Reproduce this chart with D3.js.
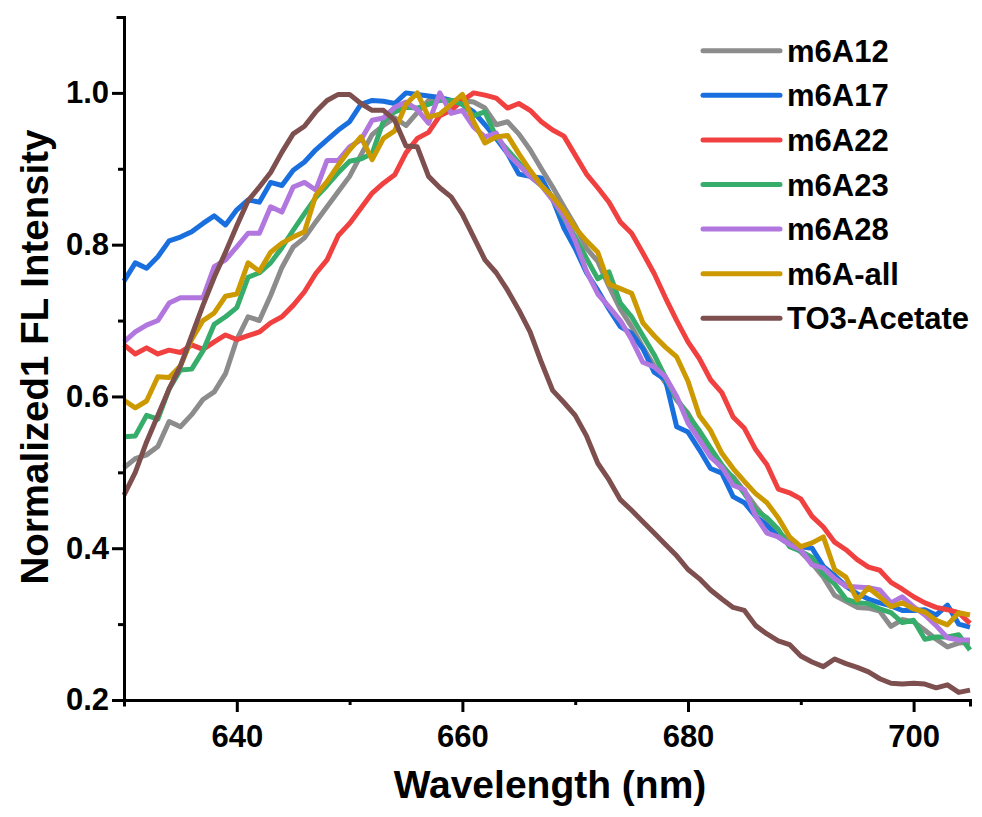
<!DOCTYPE html>
<html>
<head>
  <meta charset="utf-8">
  <script src="https://d3js.org/d3.v7.min.js"></script>
  <style>
    body { margin: 0; background: #ffffff; }
    text { font-family: "Liberation Sans", Arial, sans-serif; font-weight: bold; fill: #000; }
    .axis path, .axis line { stroke: #000; stroke-width: 3px; }
    .axis text { font-size: 31px; font-family: "Liberation Sans", Arial, sans-serif; font-weight: bold; }
    .line { fill: none; stroke-width: 5px; stroke-linejoin: round; }
  </style>
</head>
<body>
<div id="chart"></div>
<script>

// wavelength grid (nm)
var wavelength = [630,631,632,633,634,635,636,637,638,639,640,641,642,643,644,645,646,647,648,649,
  650,651,652,653,654,655,656,657,658,659,660,661,662,663,664,665,666,667,668,669,
  670,671,672,673,674,675,676,677,678,679,680,681,682,683,684,685,686,687,688,689,
  690,691,692,693,694,695,696,697,698,699,700,701,702,703,704,705];

var m6A12 = [.506,.518,.523,.534,.567,.560,.576,.596,.606,.630,.675,.705,.700,.733,.770,.797,.809,.830,.850,.870,
  .890,.918,.945,.957,.967,.957,.974,.990,.992,.990,.990,.988,.980,.958,.962,.946,.925,.900,.876,.850,
  .825,.795,.778,.745,.715,.692,.665,.640,.618,.595,.578,.552,.525,.505,.494,.475,.455,.437,.420,.410,
  .395,.380,.362,.338,.330,.322,.321,.317,.297,.306,.303,.292,.280,.270,.275,.276];

var m6A17 = [.752,.776,.769,.784,.805,.810,.817,.828,.838,.826,.846,.859,.856,.882,.878,.898,.909,.925,.938,.951,
  .962,.985,.990,.989,.986,1.0,.998,.996,.994,.990,.985,.975,.958,.940,.920,.893,.890,.888,.860,.822,
  .795,.763,.740,.715,.692,.683,.663,.632,.622,.560,.553,.530,.505,.499,.468,.460,.442,.430,.415,.405,
  .402,.400,.376,.364,.350,.340,.333,.328,.324,.318,.318,.319,.312,.325,.300,.296];

var m6A22 = [.668,.656,.664,.656,.661,.658,.668,.662,.672,.681,.675,.680,.685,.697,.705,.720,.738,.762,.780,.812,
  .828,.848,.868,.881,.892,.921,.940,.948,.970,.977,.990,1.0,.997,.993,.980,.986,.977,.962,.951,.943,
  .918,.893,.875,.856,.830,.815,.789,.762,.730,.700,.672,.650,.622,.605,.573,.558,.530,.510,.478,.473,
  .465,.442,.428,.408,.398,.385,.375,.371,.355,.346,.336,.328,.322,.319,.315,.301];

var m6A23 = [.547,.548,.575,.570,.610,.635,.636,.660,.695,.705,.717,.757,.763,.776,.796,.819,.841,.862,.878,.895,
  .910,.913,.920,.963,.975,.981,.980,.985,.990,.990,.985,.970,.975,.942,.925,.908,.890,.878,.860,.835,
  .810,.782,.755,.764,.723,.705,.680,.655,.625,.597,.575,.555,.532,.510,.492,.472,.450,.440,.425,.402,
  .396,.388,.366,.353,.333,.328,.327,.320,.315,.302,.305,.280,.283,.283,.286,.266];

var m6A28 = [.672,.685,.694,.700,.723,.730,.730,.730,.771,.780,.797,.815,.815,.850,.843,.876,.882,.872,.911,.911,
  .929,.938,.964,.967,.981,.988,.978,.960,1.0,.973,.977,.955,.942,.947,.920,.905,.890,.878,.859,.838,
  .805,.765,.735,.718,.700,.675,.645,.639,.626,.600,.565,.543,.520,.507,.483,.477,.442,.420,.415,.405,
  .398,.378,.374,.360,.350,.349,.348,.345,.328,.336,.323,.312,.298,.282,.279,.279];

var m6Aall = [.595,.585,.594,.626,.625,.640,.675,.700,.710,.732,.735,.776,.765,.790,.802,.810,.817,.865,.883,.905,
  .925,.942,.912,.940,.950,.985,1.0,.968,.972,.985,.998,.962,.934,.942,.944,.920,.898,.878,.863,.845,
  .822,.805,.790,.748,.742,.736,.697,.680,.665,.652,.620,.575,.555,.525,.505,.488,.472,.460,.440,.415,
  .402,.407,.415,.372,.362,.332,.348,.336,.323,.328,.320,.316,.305,.299,.315,.312];

var TO3 = [.470,.500,.540,.575,.610,.640,.680,.720,.757,.790,.825,.858,.876,.895,.922,.946,.956,.975,.990,.998,
  .998,.986,.977,.977,.964,.930,.929,.890,.875,.863,.840,.810,.780,.763,.740,.714,.685,.645,.608,.592,
  .575,.548,.512,.490,.464,.450,.435,.420,.405,.390,.372,.360,.345,.333,.322,.318,.298,.287,.278,.273,
  .258,.250,.244,.254,.248,.243,.237,.228,.222,.221,.222,.221,.216,.220,.210,.213];

var names = ["m6A12", "m6A17", "m6A22", "m6A23", "m6A28", "m6A-all", "TO3-Acetate"];
var colors = ["#8c8c8c", "#1a6fdf", "#f14040", "#37ad6b", "#b177de", "#cc9900", "#7e4f4f"];
var values = [m6A12, m6A17, m6A22, m6A23, m6A28, m6Aall, TO3];

var xMajor = [640, 660, 680, 700];
var xMinor = [630, 650, 670, 690];
var yMajor = [0.2, 0.4, 0.6, 0.8, 1.0];
var yMinor = [0.3, 0.5, 0.7, 0.9, 1.1];

var margin = {top: 17, right: 12, bottom: 117, left: 124},
    width = 982 - margin.left - margin.right,
    height = 817 - margin.top - margin.bottom;

var svg = d3.select("#chart").append("svg")
    .attr("width", width + margin.left + margin.right)
    .attr("height", height + margin.top + margin.bottom)
  .append("g")
    .attr("transform", "translate(" + margin.left + "," + margin.top + ")");

var x = d3.scaleLinear().domain([630, 705]).range([0, width]);
var y = d3.scaleLinear().domain([0.2, 1.1]).range([height, 0]);

var line = d3.line()
    .x(function(d) { return x(d[0]); })
    .y(function(d) { return y(d[1]); });

values.forEach(function(v, i) {
  svg.append("path")
      .datum(wavelength.map(function(w, j) { return [w, v[j]]; }))
      .attr("class", "line")
      .attr("stroke", colors[i])
      .attr("d", line);
});

// axes
svg.append("g")
    .attr("class", "axis")
    .attr("transform", "translate(0," + height + ")")
    .call(d3.axisBottom(x).tickValues(xMinor).tickSize(5).tickFormat(""));

svg.append("g")
    .attr("class", "axis")
    .attr("transform", "translate(0," + height + ")")
    .call(d3.axisBottom(x).tickValues(xMajor).tickSize(12).tickSizeOuter(0).tickPadding(13).tickFormat(d3.format("d")));

svg.append("g")
    .attr("class", "axis")
    .call(d3.axisLeft(y).tickValues(yMinor).tickSize(6).tickFormat(""));

svg.append("g")
    .attr("class", "axis")
    .call(d3.axisLeft(y).tickValues(yMajor).tickSize(12).tickSizeOuter(0).tickPadding(3).tickFormat(d3.format(".1f")));

svg.selectAll(".axis path").attr("stroke-linecap", "square");

// axis titles
svg.append("text")
    .attr("x", 550 - margin.left)
    .attr("y", height + 98)
    .style("text-anchor", "middle")
    .style("font-size", "39px")
    .text("Wavelength (nm)");

svg.append("text")
    .attr("transform", "rotate(-90)")
    .attr("x", -(357 - margin.top))
    .attr("y", 48 - margin.left)
    .style("text-anchor", "middle")
    .style("font-size", "38.5px")
    .text("Normalized1 FL Intensity");

// legend
var legend = svg.selectAll(".legend")
    .data(names)
  .enter().append("g")
    .attr("class", "legend")
    .attr("transform", function(d, i) { return "translate(" + (703 - margin.left) + "," + (50.7 + i * 44.6 - margin.top) + ")"; });

legend.append("line")
    .attr("x1", 0)
    .attr("x2", 77)
    .attr("stroke", function(d, i) { return colors[i]; })
    .attr("stroke-width", 5)
    .attr("stroke-linecap", "round");

legend.append("text")
    .attr("x", 84)
    .attr("dy", "0.36em")
    .style("font-size", "31px")
    .text(function(d) { return d; });

</script>
</body>
</html>
